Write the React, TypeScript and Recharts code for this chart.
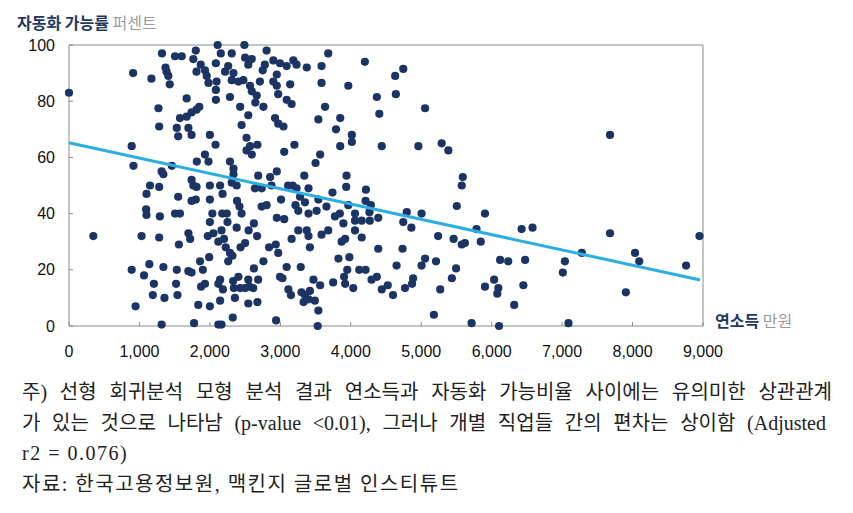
import React from 'react'
import {
  ScatterChart,
  Scatter,
  XAxis,
  YAxis,
  ReferenceLine,
} from 'recharts'

// [연소득(만원), 자동화 가능률(%)], grouped by income band
const under1000: [number, number][] = [
  [0, 83], [345, 32], [890, 64], [915, 57], [910, 90], [890, 20], [945, 7],
]

const band1000: [number, number][] = [
  [1030, 32], [1065, 18], [1095, 41.5], [1100, 39.5], [1100, 47], [1150, 50], [1140, 22],
  [1205, 15], [1190, 11], [1170, 88], [1270, 77.5], [1280, 71], [1280, 31.5], [1290, 39],
  [1280, 49.5], [1315, 55], [1340, 54], [1340, 21], [1355, 10], [1315, 0.5], [1320, 97],
  [1370, 92], [1385, 90.5], [1410, 89], [1430, 86], [1460, 57],
  [1505, 96], [1600, 96], [1670, 81], [1575, 74], [1670, 74.5], [1740, 76], [1810, 77],
  [1850, 78], [1530, 70.5], [1550, 67.5], [1695, 70.5], [1740, 68], [1505, 40], [1575, 40],
  [1550, 46], [1560, 29], [1530, 20], [1520, 15], [1540, 11], [1695, 33], [1720, 31],
  [1740, 52], [1765, 50], [1810, 49.5], [1740, 44.5], [1800, 45], [1695, 19.5], [1740, 19],
  [1860, 23], [1900, 20], [1875, 14], [1930, 15], [1835, 7.5], [1775, 1], [1800, 98],
  [1765, 95], [1870, 93], [1810, 90.5], [1930, 91], [1955, 89], [1980, 86.5], [1815, 58.5],
  [1930, 61], [1980, 58.5], [1970, 32], [1990, 24.5],
]

const band2000: [number, number][] = [
  [2000, 68], [2080, 64.5], [2110, 100], [2155, 97], [2085, 93.5], [2085, 84], [2095, 87],
  [2085, 80.5], [2285, 81.5], [2260, 92.5], [2215, 90.5], [2310, 97], [2335, 90], [2310, 87.5],
  [2405, 87], [2490, 100], [2500, 95.5], [2475, 87.5], [2430, 78], [2545, 75], [2450, 71.5],
  [2520, 67], [2570, 64], [2675, 64.5], [2520, 62.5], [2595, 61], [2285, 58.5], [2335, 56],
  [2000, 7], [2000, 50], [2145, 50], [2180, 47], [2000, 45], [2035, 40], [2000, 37], [2050, 33],
  [2120, 30], [2165, 34], [2175, 40], [2240, 40], [2250, 37], [2200, 31], [2225, 28], [2285, 26],
  [2260, 23], [2320, 25], [2145, 16.5], [2120, 15], [2185, 13], [2145, 9], [2325, 3],
  [2120, 0.5], [2165, 0.5], [2355, 10], [2330, 16], [2340, 13.5], [2405, 17.5], [2430, 13.5],
  [2500, 13.5], [2560, 14], [2615, 13.5], [2545, 16.5], [2545, 8], [2675, 8.5], [2625, 20.5],
  [2685, 16.5], [2380, 35], [2385, 44.5], [2420, 42.5], [2450, 40], [2435, 28], [2500, 29.5],
  [2550, 34], [2625, 36.5], [2670, 32], [2760, 23], [2840, 28], [2935, 29], [2970, 26],
  [2940, 2], [2735, 42.5], [2805, 43], [2855, 53], [2685, 53.5], [2950, 55], [2640, 49],
  [2735, 49], [2950, 38.5], [2875, 50], [2310, 51], [2335, 54], [2380, 50],
  [2545, 93], [2595, 95], [2570, 85.5], [2595, 83.5], [2665, 82], [2645, 79.5], [2710, 87],
  [2750, 91], [2805, 98], [2760, 78], [2780, 93], [2900, 94.5], [2900, 87], [2950, 89.5],
  [2970, 82.5], [2950, 85.5], [2995, 93.5], [2925, 74], [2970, 72],
]

const band3000: [number, number][] = [
  [3045, 71], [3055, 62], [3200, 64.5], [3090, 92.5], [3140, 86], [3185, 94.5], [3230, 93],
  [3160, 79], [3090, 80.5], [3375, 92], [3010, 45], [3055, 38], [3110, 50], [3175, 50],
  [3090, 21], [2995, 17.5], [3030, 17], [3115, 13], [3150, 11], [3160, 31], [3255, 34],
  [3375, 34], [3215, 43], [3255, 41], [3340, 53.5], [3230, 49], [3400, 49], [3280, 46],
  [3350, 44], [3400, 40], [3400, 32], [3420, 28], [3290, 21], [3300, 12], [3350, 11],
  [3420, 12.5], [3330, 8.5], [3400, 9.5], [3490, 9], [3470, 16.5], [3500, 58], [3565, 61],
  [3585, 92.5], [3585, 86.5], [3680, 97], [3635, 78], [3850, 74], [3540, 73.5], [3790, 70],
  [3850, 64], [3965, 85.5], [3940, 53.5], [3935, 49.5], [3740, 47.5], [3540, 45], [3655, 42.5],
  [3965, 43], [3515, 41], [3775, 39], [3845, 40], [3895, 36.5], [3585, 32.5], [3680, 34],
  [3870, 30], [3920, 31], [3825, 24], [3980, 24.5], [3950, 20], [3905, 17.5], [3920, 15],
  [3750, 15.5], [3565, 14.5], [3540, 5.5], [3530, 0],
]

const band4000: [number, number][] = [
  [4015, 68], [4015, 65.5], [4200, 94], [4370, 81.5], [4405, 75.5], [4440, 64], [4960, 64],
  [4630, 89], [4745, 91.5], [4640, 82.5], [4215, 48.5], [4210, 44.5], [4285, 43], [4060, 40],
  [4265, 40.5], [4390, 38.5], [4060, 37.5], [4155, 37.5], [4270, 37.5], [4060, 34], [4155, 31.5],
  [4390, 27.5], [4035, 13.5], [4120, 20], [4210, 20], [4295, 16.5], [4370, 17.5], [4440, 13],
  [4525, 14.5], [4600, 11], [4770, 13.5], [4870, 15], [4885, 17], [4650, 21.5], [4795, 40.5],
  [4745, 37], [4735, 27.5], [4860, 35],
]

const band5000: [number, number][] = [
  [5055, 77.5], [5290, 65], [5385, 62.5], [5590, 53], [5575, 50], [5505, 42.7], [5005, 40],
  [5005, 21.5], [5055, 24], [5210, 23], [5240, 32], [5460, 31], [5575, 29], [5620, 29.5],
  [5845, 30], [5785, 34.5], [5905, 40], [5495, 20.5], [5435, 17], [5270, 13], [5180, 4],
  [5715, 1], [5905, 14],
]

const over6000: [number, number][] = [
  [6035, 16.5], [6095, 13.5], [6080, 11.5], [6105, 0], [6120, 23.5], [6235, 23], [6425, 34.5],
  [6580, 35], [6475, 23.5], [6450, 14.5], [6320, 7.5], [7040, 23], [7010, 19], [7090, 1],
  [7280, 26], [7680, 68], [7680, 33], [7905, 12], [8035, 26], [8095, 23], [8760, 21.5],
  [8950, 32],
]

// regression line end points as drawn
const trendLine = [
  { x: 0, y: 65.2 },
  { x: 8960, y: 16.4 },
]

const xTicks = [0, 1000, 2000, 3000, 4000, 5000, 6000, 7000, 8000, 9000]
const yTicks = [0, 20, 40, 60, 80, 100]

const occupations = [
  ...under1000,
  ...band1000,
  ...band2000,
  ...band3000,
  ...band4000,
  ...band5000,
  ...over6000,
].map(([x, y]) => ({ x, y }))

const DOT = '#1b3464'
const AXIS = '#8a8a8a'
const TICK_FONT = '"Liberation Sans", Arial, sans-serif'
const KR_FONT = '"Noto Sans CJK KR", sans-serif'

const XTick = (props: any) => {
  const { x, y, payload } = props
  const axisY = y - 20
  return (
    <g>
      <line x1={x} x2={x} y1={axisY} y2={axisY - 4} stroke={AXIS} />
      <text
        x={x}
        y={y}
        dy="0.71em"
        textAnchor="middle"
        fontSize={16}
        fontFamily={TICK_FONT}
        fill="#111"
      >
        {payload.value.toLocaleString('en-US')}
      </text>
    </g>
  )
}

const YTick = (props: any) => {
  const { x, y, payload } = props
  const axisX = x + 14
  return (
    <g>
      <line x1={axisX} x2={axisX + 4} y1={y} y2={y} stroke={AXIS} />
      <text
        x={x}
        y={y}
        dy="0.355em"
        textAnchor="end"
        fontSize={16}
        fontFamily={TICK_FONT}
        fill="#111"
      >
        {payload.value}
      </text>
    </g>
  )
}

const Dot = (props: any) => <circle cx={props.cx} cy={props.cy} r={4.1} fill={DOT} />
const NoDot = () => <g />

const noteLine: React.CSSProperties = {
  textAlign: 'justify',
  textAlignLast: 'justify',
  whiteSpace: 'nowrap',
}

const App: React.FC = () => {
  return (
    <div
      style={{
        position: 'absolute',
        left: 0,
        top: 0,
        width: 853,
        height: 513,
        background: '#fff',
      }}
    >
      <div
        style={{
          position: 'absolute',
          left: 17,
          top: 13,
          fontFamily: KR_FONT,
          fontSize: 16,
          lineHeight: '18px',
          whiteSpace: 'nowrap',
        }}
      >
        <span style={{ fontWeight: 700, color: '#1f3864' }}>자동화 가능률</span>{' '}
        <span style={{ color: '#9a9a9a' }}>퍼센트</span>
      </div>

      <div style={{ position: 'absolute', left: 0, top: 0 }}>
        <ScatterChart
          width={853}
          height={380}
          margin={{ top: 45, right: 150, left: 9, bottom: 14 }}
        >
          <XAxis
            dataKey="x"
            type="number"
            domain={[0, 9000]}
            ticks={xTicks}
            interval={0}
            height={40}
            tickSize={0}
            tickMargin={20}
            tickLine={false}
            axisLine={{ stroke: AXIS }}
            tick={<XTick />}
          />
          <YAxis
            dataKey="y"
            type="number"
            domain={[0, 100]}
            ticks={yTicks}
            interval={0}
            width={60}
            tickSize={0}
            tickMargin={14}
            tickLine={false}
            axisLine={{ stroke: AXIS }}
            tick={<YTick />}
          />
          <ReferenceLine y={100} stroke={AXIS} ifOverflow="visible" />
          <ReferenceLine x={9000} stroke={AXIS} ifOverflow="visible" />
          <Scatter
            data={occupations}
            shape={<Dot />}
            isAnimationActive={false}
          />
          <Scatter
            data={trendLine}
            line={{ stroke: '#2aaee4', strokeWidth: 3 }}
            shape={<NoDot />}
            isAnimationActive={false}
          />
        </ScatterChart>
      </div>

      <div
        style={{
          position: 'absolute',
          left: 715,
          top: 311,
          fontFamily: KR_FONT,
          fontSize: 16,
          lineHeight: '18px',
          whiteSpace: 'nowrap',
        }}
      >
        <span style={{ fontWeight: 700, color: '#1f3864' }}>연소득</span>{' '}
        <span style={{ color: '#9a9a9a' }}>만원</span>
      </div>

      <div
        style={{
          position: 'absolute',
          left: 22,
          top: 377,
          fontFamily: '"Liberation Serif", "Noto Sans CJK KR", serif',
          fontSize: 20,
          lineHeight: '30.5px',
          color: '#222',
        }}
      >
        <div style={{ ...noteLine, width: 810 }}>
          주) 선형 회귀분석 모형 분석 결과 연소득과 자동화 가능비율 사이에는 유의미한 상관관계
        </div>
        <div style={{ ...noteLine, width: 804 }}>
          가 있는 것으로 나타남 (p-value &lt;0.01), 그러나 개별 직업들 간의 편차는 상이함 (Adjusted
        </div>
        <div style={{ whiteSpace: 'nowrap', letterSpacing: 1.5 }}>r2 = 0.076)</div>
        <div style={{ whiteSpace: 'nowrap', letterSpacing: 1.5 }}>
          자료: 한국고용정보원, 맥킨지 글로벌 인스티튜트
        </div>
      </div>
    </div>
  )
}

export default App
